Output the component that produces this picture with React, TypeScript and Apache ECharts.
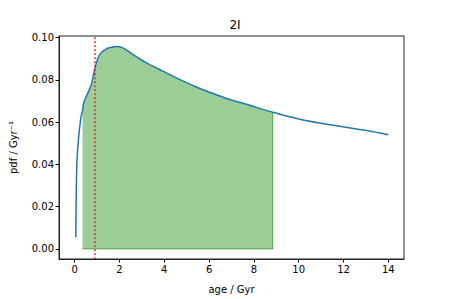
import React, { useEffect, useRef } from "react";
import * as echarts from "echarts";

const ages = [0.05, 0.09, 0.16, 0.27, 0.35, 0.41, 0.6, 0.75, 0.86, 0.97, 1.12, 1.41, 1.71, 1.85, 2.15, 2.59, 3.18, 3.91, 4.65, 5.38, 6.12, 6.85, 7.59, 8.32, 8.84, 10.09, 11.56, 13.03, 14.0];
const pdf = [0.0055, 0.038, 0.0507, 0.0617, 0.0655, 0.0694, 0.0741, 0.078, 0.0835, 0.0882, 0.0921, 0.0947, 0.0956, 0.0958, 0.0952, 0.0921, 0.0882, 0.0843, 0.0804, 0.0769, 0.0738, 0.071, 0.0687, 0.0663, 0.0647, 0.0613, 0.0585, 0.056, 0.054];
const fillStart = 0.35;
const fillEnd = 8.84;
const markerAge = 0.9;
const xTicks = [0, 2, 4, 6, 8, 10, 12, 14];
const yTicks = [0, 0.02, 0.04, 0.06, 0.08, 0.1];

export default function App() {
  const ref = useRef<HTMLDivElement>(null);
  useEffect(() => {
    if (!ref.current) return;
    const chart = echarts.init(ref.current, null, { renderer: "svg" });
    const curve = ages.map((a, i) => [a, pdf[i]]);
    const fillPts = curve.filter((p) => p[0] >= fillStart && p[0] <= fillEnd);
    const yE = fillPts[fillPts.length - 1][1];
    const font = "DejaVu Sans";
    chart.setOption({
      animation: false,
      title: {
        text: "2I",
        left: 230,
        top: 14,
        textAlign: "center",
        textStyle: { fontFamily: font, fontSize: 12, fontWeight: "normal", color: "#000" },
      },
      grid: { left: 56, right: 45, top: 36, bottom: 38, show: true, borderColor: "#222", borderWidth: 1, backgroundColor: "transparent" },
      xAxis: {
        type: "value",
        min: -0.7,
        max: 14.7,
        name: "age / Gyr",
        nameLocation: "middle",
        nameGap: 25,
        nameTextStyle: { fontFamily: font, fontSize: 10, color: "#000" },
        axisLine: { show: true, onZero: false, lineStyle: { color: "#222", width: 1 } },
        axisTick: { show: true, length: 3.5, customValues: xTicks, lineStyle: { color: "#000" } },
        axisLabel: { customValues: xTicks, fontFamily: font, fontSize: 10, color: "#000", margin: 5 },
        splitLine: { show: false },
      },
      yAxis: {
        type: "value",
        min: -0.0048,
        max: 0.1008,
        name: "pdf / Gyr⁻¹",
        nameLocation: "middle",
        nameGap: 41,
        nameTextStyle: { fontFamily: font, fontSize: 10, color: "#000" },
        axisLine: { show: true, onZero: false, lineStyle: { color: "#222", width: 1 } },
        axisTick: { show: true, length: 3.5, customValues: yTicks, lineStyle: { color: "#000" } },
        axisLabel: { customValues: yTicks, fontFamily: font, fontSize: 10, color: "#000", margin: 5, formatter: (v: number) => v.toFixed(2) },
        splitLine: { show: false },
      },
      series: [
        {
          type: "line",
          data: fillPts,
          smooth: 0.3,
          symbol: "none",
          lineStyle: { width: 0 },
          areaStyle: { color: "#9bcd97", opacity: 1, origin: 0 },
          z: 1,
        },
        {
          type: "line",
          data: [[fillStart, 0], [fillEnd, 0], [fillEnd, yE]],
          symbol: "none",
          lineStyle: { color: "rgba(30,140,30,0.75)", width: 1 },
          z: 2,
        },
        {
          type: "line",
          data: curve,
          smooth: 0.3,
          symbol: "none",
          lineStyle: { color: "#1f77b4", width: 1.5 },
          z: 3,
          markLine: {
            silent: true,
            symbol: "none",
            label: { show: false },
            lineStyle: { color: "#ff0000", type: [1.5, 2.5], width: 1.5 },
            data: [{ xAxis: markerAge }],
          },
        },
      ],
    });
    return () => chart.dispose();
  }, []);
  return <div ref={ref} style={{ width: 449, height: 299, position: "absolute", left: 0, top: 0 }} />;
}
